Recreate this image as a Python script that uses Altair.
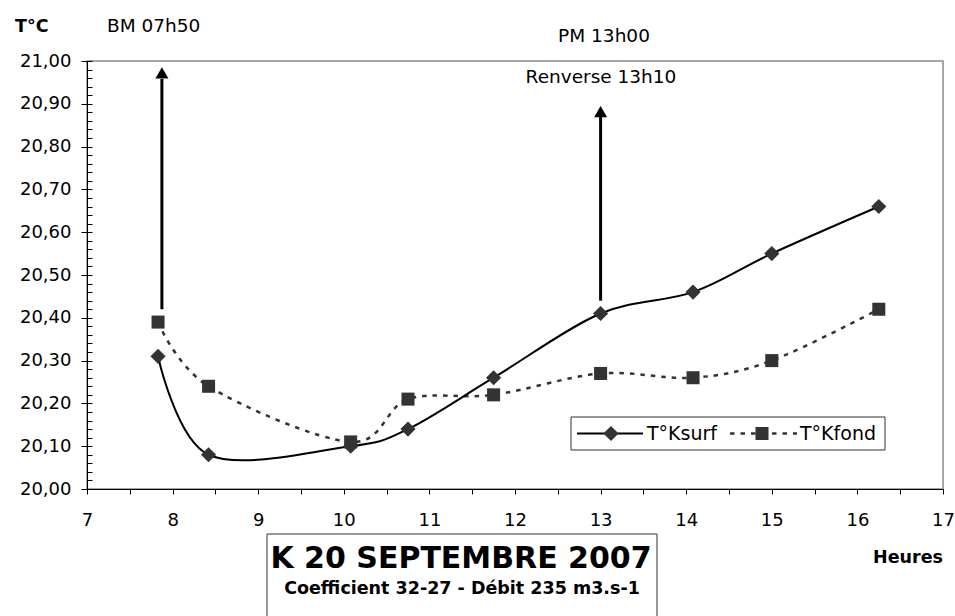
import altair as alt
import pandas as pd

# Measured temperatures (°C) at the K station, by decimal hour
hours = [7.83, 8.42, 10.08, 10.75, 11.75, 13.0, 14.08, 15.0, 16.25]
t_surf = [20.31, 20.08, 20.10, 20.14, 20.26, 20.41, 20.46, 20.55, 20.66]
t_fond = [20.39, 20.24, 20.11, 20.21, 20.22, 20.27, 20.26, 20.30, 20.42]

# Tide arrows: low water (BM) and high water / turn of the tide (PM)
arrow_hour = [7.875, 13.0]
arrow_foot = [20.42, 20.44]
arrow_top = [20.958, 20.87]
arrow_head = [20.972, 20.882]

# Axis ticks
y_ticks = [20.0, 20.1, 20.2, 20.3, 20.4, 20.5, 20.6, 20.7, 20.8, 20.9, 21.0]
y_minor = [round(20 + i * 0.02, 2) for i in range(51)]
x_ticks = [7 + i * 0.5 for i in range(21)]

FONT = "DejaVu Sans"
W, H = 856, 428
DIAMOND = 230
SQUARE = 170

x_scale = alt.Scale(domain=[7, 17], nice=False, zero=False)
y_scale = alt.Scale(domain=[20, 21], nice=False, zero=False)

x_axis = alt.Axis(
    values=x_ticks, orient="bottom",
    labelExpr="datum.value % 1 === 0 ? format(datum.value, 'd') : ''",
    labelOverlap=False, labelFlush=False, tickSize=5, labelPadding=17,
    labelFont=FONT, labelFontSize=18, labelColor="black",
    domainColor="black", tickColor="black", grid=False, title=None,
)
y_axis = alt.Axis(
    values=y_ticks, orient="left",
    labelExpr="replace(format(datum.value, '.2f'), '.', ',')",
    labelOverlap=False, labelFlush=False, tickSize=6, labelPadding=10,
    labelFont=FONT, labelFontSize=18, labelColor="black",
    domainColor="black", tickColor="black", grid=False, title=None,
)
y_minor_axis = alt.Axis(
    values=y_minor, orient="left", labels=False, domain=False,
    tickSize=5, offset=-5, tickColor="black", grid=False, title=None,
)


def xy(xf, yf, yaxis=None):
    return dict(
        x=alt.X(xf, scale=x_scale, axis=x_axis),
        y=alt.Y(yf, scale=y_scale, axis=yaxis),
    )


surf = pd.DataFrame({"h": hours, "t": t_surf})
fond = pd.DataFrame({"h": hours, "t": t_fond})
arrows = pd.DataFrame({"h": arrow_hour, "y0": arrow_foot, "y1": arrow_top, "yh": arrow_head})
one = pd.DataFrame({"a": [0]})

surf_line = alt.Chart(surf).mark_line(
    interpolate="cardinal", color="black", strokeWidth=2
).encode(**xy("h:Q", "t:Q", y_axis))
fond_line = alt.Chart(fond).mark_line(
    interpolate="cardinal", color="#333333", strokeWidth=2.5, strokeDash=[4.5, 6]
).encode(**xy("h:Q", "t:Q"))
surf_pts = alt.Chart(surf).mark_point(
    shape="diamond", filled=True, size=DIAMOND, color="#333333", opacity=1
).encode(**xy("h:Q", "t:Q"))
fond_pts = alt.Chart(fond).mark_point(
    shape="square", filled=True, size=SQUARE, color="#333333", opacity=1
).encode(**xy("h:Q", "t:Q", y_minor_axis))

arrow_shaft = alt.Chart(arrows).mark_rule(color="black", strokeWidth=3).encode(
    y2="y1:Q", **xy("h:Q", "y0:Q")
)
arrow_tip = alt.Chart(arrows).mark_point(
    shape="triangle-up", filled=True, size=169, color="black", opacity=1
).encode(**xy("h:Q", "yh:Q"))


def label(text, x, y, size=18.5, bold=False, align="left", baseline="alphabetic"):
    return alt.Chart(one).mark_text(
        font=FONT, fontSize=size, fontWeight="bold" if bold else "normal",
        align=align, baseline=baseline, color="black",
    ).encode(x=alt.value(x), y=alt.value(y), text=alt.value(text))


# Legend frame with line + marker samples
legend_box = alt.Chart(one).mark_rect(fill="white", stroke="#333333", strokeWidth=1).encode(
    x=alt.value(484), x2=alt.value(798), y=alt.value(356), y2=alt.value(389)
)
leg_surf_line = alt.Chart(one).mark_rule(color="black", strokeWidth=2).encode(
    x=alt.value(490), x2=alt.value(556), y=alt.value(372.5)
)
leg_surf_pt = alt.Chart(one).mark_point(
    shape="diamond", filled=True, size=DIAMOND, color="#333333", opacity=1
).encode(x=alt.value(524), y=alt.value(372.5))
leg_fond_line = alt.Chart(one).mark_rule(color="#333333", strokeWidth=2.5, strokeDash=[4.5, 6]).encode(
    x=alt.value(643), x2=alt.value(710), y=alt.value(372.5)
)
leg_fond_pt = alt.Chart(one).mark_point(
    shape="square", filled=True, size=SQUARE, color="#333333", opacity=1
).encode(x=alt.value(675), y=alt.value(372.5))

# Title box under the plot
title_box = alt.Chart(one).mark_rect(fill="white", stroke="#333333", strokeWidth=1).encode(
    x=alt.value(180), x2=alt.value(570), y=alt.value(473), y2=alt.value(600)
)

chart = alt.layer(
    arrow_shaft, arrow_tip,
    fond_line, surf_line, fond_pts, surf_pts,
    legend_box, leg_surf_line, leg_surf_pt, leg_fond_line, leg_fond_pt,
    label("T°Ksurf", 560, 373, size=19, baseline="middle"),
    label("T°Kfond", 713, 373, size=19, baseline="middle"),
    label("T°C", -72, -29, size=17.5, bold=True),
    label("BM 07h50", 20, -29),
    label("PM 13h00", 517, -19, align="center"),
    label("Renverse 13h10", 514, 22, align="center"),
    label("Heures", 856, 502, size=17.5, bold=True, align="right"),
    title_box,
    label("K 20 SEPTEMBRE 2007", 374, 507, size=30, bold=True, align="center"),
    label("Coefficient 32-27 - Débit 235 m3.s-1", 375, 533, size=17.5, bold=True, align="center"),
).resolve_axis(
    y="independent"
).properties(
    width=W, height=H
).configure(
    autosize="none",
    padding={"left": 87, "top": 61, "right": 12, "bottom": 127},
    background="white",
).configure_view(
    stroke="#8a8a8a", strokeWidth=1.5
)

chart.save("out.html", embed_options={"renderer": "svg", "actions": False})
